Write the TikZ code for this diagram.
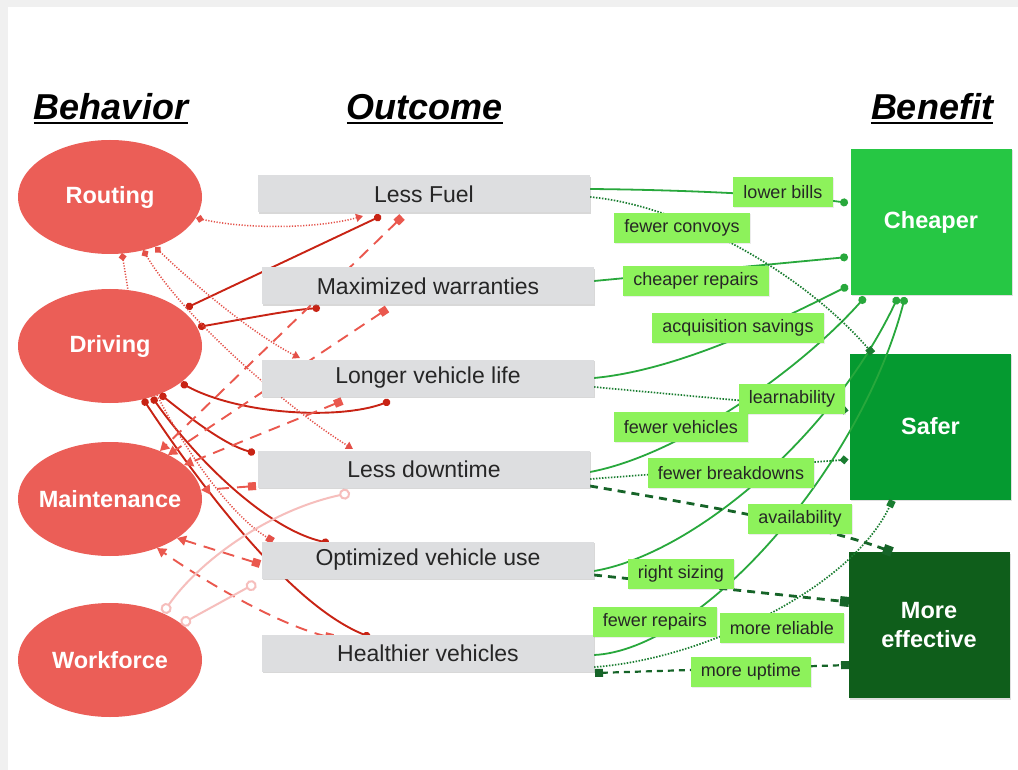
\documentclass[tikz,border=0pt]{standalone}
\usepackage{fontspec}
\setmainfont{Liberation Sans}
\usetikzlibrary{arrows.meta,shapes.geometric,shadows}
\definecolor{behred}{RGB}{235,94,87}
\definecolor{outgray}{RGB}{221,222,224}
\definecolor{cheapg}{RGB}{38,199,68}
\definecolor{saferg}{RGB}{5,154,48}
\definecolor{effg}{RGB}{15,94,27}
\definecolor{labg}{RGB}{141,242,91}
\definecolor{rsol}{RGB}{200,35,20}
\definecolor{rdsh}{RGB}{234,88,78}
\definecolor{rdt}{RGB}{228,80,72}
\definecolor{rpink}{RGB}{246,190,188}
\definecolor{gsol}{RGB}{40,168,60}
\definecolor{gdot}{RGB}{25,125,48}
\definecolor{gdsh}{RGB}{22,100,40}
\pgfdeclarelayer{under}
\pgfdeclarelayer{lines}
\pgfsetlayers{under,lines,main}
\begin{document}
\begin{tikzpicture}[x=1pt,y=-1pt,
 title/.style={font=\fontsize{36}{40}\selectfont\bfseries\itshape, anchor=base, inner sep=0pt},
 beh/.style={ellipse, fill=behred, minimum width=184pt, minimum height=114pt, inner sep=0pt,
   label={[text=white, font=\fontsize{23.5}{28}\selectfont\bfseries]center:#1}},
 ben/.style={rectangle, minimum width=161pt, minimum height=146pt, inner sep=0pt, text=white, align=center, font=\fontsize{23.5}{29}\selectfont\bfseries, drop shadow={shadow xshift=1pt, shadow yshift=-1.5pt, opacity=0.25}},
 outc/.style={rectangle, fill=outgray, minimum width=332pt, minimum height=37pt, inner sep=0pt, text=black!85, font=\fontsize{23}{28}\selectfont, drop shadow={shadow xshift=1pt, shadow yshift=-1.5pt, opacity=0.3}},
 lab/.style={rectangle, fill=labg, minimum height=30pt, inner xsep=10pt, inner ysep=0pt, text=black!85, font=\fontsize{18}{20}\selectfont, drop shadow={shadow xshift=1pt, shadow yshift=-1pt, opacity=0.15}},
 rs/.style={draw=rsol, line width=1.9pt, {Circle[length=7.5pt]}-{Circle[length=7.5pt]}},
 rd/.style={draw=rdsh, line width=1.9pt, dash pattern=on 12pt off 8pt, {Square[length=8pt,width=8pt]}-{Triangle[length=9pt,width=10pt]}},
 rdo/.style={draw=rdt, line width=1.5pt, dash pattern=on 1.2pt off 1.6pt},
 rp/.style={draw=rpink, line width=2pt, {Circle[open,length=11pt,fill=white]}-{Circle[open,length=11pt,fill=white]}},
 gs/.style={draw=gsol, line width=1.8pt, -{Circle[length=8pt]}},
 gdo/.style={draw=gdot, line width=1.7pt, dash pattern=on 1.5pt off 1.5pt},
 gds/.style={draw=gdsh, line width=2.8pt, dash pattern=on 8pt off 6pt, -{Square[length=9pt,width=10pt]}}
]
\useasboundingbox (0,0) rectangle (1018,770);
\begin{pgfonlayer}{under}
\fill[black!6] (0,0) rectangle (1018,770);
\fill[white] (8,7) rectangle (1018,770);
\node[beh=Routing] (R) at (110,197) {};
\node[beh=Driving] (D) at (110,346) {};
\node[beh=Maintenance] (M) at (110,499) {};
\node[beh=Workforce] (W) at (110,660) {};
\node[ben, fill=cheapg] (C) at (931,222) {Cheaper};
\node[ben, fill=saferg] (S) at (930.5,426.5) {Safer};
\node[ben, fill=effg] (E) at (929,625) {More\\effective};
\end{pgfonlayer}

% titles
\node[title] (tB) at (111,120) {Behavior};
\node[title] (tO) at (425,120) {Outcome};
\node[title] (tN) at (932,120) {Benefit};
\foreach \t in {tB,tO,tN}
  \draw[line width=2pt] ([yshift=-3.5pt]\t.base west) -- ([yshift=-3.5pt]\t.base east);

% outcomes
\node[outc] (LF) at (424,194) {Less Fuel};
\node[outc] (MW) at (428,286) {Maximized warranties};
\node[outc] (LV) at (428,378) {Longer vehicle life};
\node[outc] (LD) at (424,469) {Less downtime};
\node[outc] (OU) at (428,560) {Optimized vehicle use};
\node[outc] (HV) at (428,653) {Healthier vehicles};

% labels
\node[lab] (l1) at (783,192) {lower bills};
\node[lab] (l2) at (682,228) {fewer convoys};
\node[lab] (l3) at (696,281) {cheaper repairs};
\node[lab] (l4) at (738,328) {acquisition savings};
\node[lab] (l5) at (792,399) {learnability};
\node[lab] (l6) at (681,427) {fewer vehicles};
\node[lab] (l7) at (731,473) {fewer breakdowns};
\node[lab] (l8) at (800,519) {availability};
\node[lab] (l9) at (681,574) {right sizing};
\node[lab] (l10) at (655,622) {fewer repairs};
\node[lab] (l11) at (782,628) {more reliable};
\node[lab] (l12) at (751,672) {more uptime};

\begin{pgfonlayer}{lines}
% red solid
\draw[rs] ([shift={(76,-38)}]D.center) -- ([shift={(-43,22)}]LF.center);
\draw[rs] ([shift={(88,-19)}]D.center) .. controls (250,318) and (290,310) .. ([shift={(-108,22)}]MW.center);
\draw[rs] ([shift={(71,37)}]D.center) .. controls (240,415) and (340,420) .. ([shift={(-38,23)}]LV.center);
\draw[rs] ([shift={(50,48)}]D.center) .. controls (190,418) and (225,445) .. ([shift={(-169,-16)}]LD.center);
\draw[rs] ([shift={(42,51)}]D.center) .. controls (200,465) and (270,530) .. ([shift={(-99,-17)}]OU.center);
\draw[rs] ([shift={(33,53)}]D.center) .. controls (200,485) and (290,605) .. ([shift={(-58,-16)}]HV.center);
% red dashed
\draw[rd] ([shift={(-22,23)}]LF.center) -- ([shift={(50,-48)}]M.center);
\draw[rd] ([shift={(-41,23)}]MW.center) -- ([shift={(58,-44)}]M.center);
\draw[rd] ([shift={(-86,23)}]LV.center) -- ([shift={(74,-34)}]M.center);
\draw[rd] ([shift={(-168,17)}]LD.center) -- ([shift={(91,-9)}]M.center);
\draw[rd] ([shift={(-168,4)}]OU.center) -- ([shift={(67,39)}]M.center);
\draw[rd] ([shift={(-95,-15)}]HV.center) .. controls (280,625) and (210,585) .. ([shift={(47,49)}]M.center);
% red dotted
\draw[rdo, {Turned Square[length=8pt,width=8pt]}-{Triangle[length=7pt,width=8pt]}] ([shift={(86,21)}]R.center) .. controls (250,230) and (320,228) .. ([shift={(-61,22)}]LF.center);
\draw[rdo, {Turned Square[length=8pt,width=8pt]}-] ([shift={(12,56)}]R.center) -- ([shift={(18,-56)}]D.center);
\draw[rdo, {Turned Square[length=8pt,width=8pt]}-{Triangle[length=7pt,width=8pt]}] ([shift={(45,50)}]R.center) .. controls (200,290) and (255,335) .. ([shift={(-128,-20)}]LV.center);
\draw[rdo, {Turned Square[length=8pt,width=8pt]}-{Triangle[length=7pt,width=8pt]}] ([shift={(33,53)}]R.center) .. controls (185,320) and (290,410) .. ([shift={(-71,-20)}]LD.center);
\draw[rdo, -{Square[length=7pt,width=7pt]}] ([shift={(47,49)}]D.center) .. controls (185,450) and (230,515) .. ([shift={(-155,-19)}]OU.center);
% pink
\draw[rp] ([shift={(53,-47)}]W.center) .. controls (200,560) and (270,510) .. ([shift={(-74,24)}]LD.center);
\draw[rp] ([shift={(71,-36)}]W.center) -- ([shift={(-172,23)}]OU.center);
% green solid
\draw[gs] ([shift={(166,-5)}]LF.center) .. controls (700,190) and (800,196) .. ([shift={(-83,-19)}]C.center);
\draw[gs] ([shift={(166,-5)}]MW.center) -- ([shift={(-83,35)}]C.center);
\draw[gs] ([shift={(166,0)}]LV.center) .. controls (680,370) and (780,320) .. ([shift={(-83,64)}]C.center);
\draw[gs] ([shift={(166,3)}]LD.center) .. controls (680,455) and (800,370) .. ([shift={(-66,75)}]C.center);
\draw[gs] ([shift={(166,11)}]OU.center) .. controls (690,555) and (830,440) .. ([shift={(-33,75)}]C.center);
\draw[gs] ([shift={(166,2)}]HV.center) .. controls (700,650) and (860,470) .. ([shift={(-26,75)}]C.center);
% green dotted
\draw[gdo, -{Square[length=7pt,width=7pt]}] ([shift={(166,3)}]LF.center) .. controls (680,205) and (800,270) .. ([shift={(-58,-73)}]S.center);
\draw[gdo, -{Turned Square[length=9pt,width=9pt]}] ([shift={(166,9)}]LV.center) -- ([shift={(-82,-16)}]S.center);
\draw[gdo, -{Turned Square[length=9pt,width=9pt]}] ([shift={(166,10)}]LD.center) -- ([shift={(-82,33)}]S.center);
\draw[gdo, -{Square[length=7pt,width=7pt]}] ([shift={(166,14)}]HV.center) .. controls (700,660) and (850,590) .. ([shift={(-38,74)}]S.center);
% green dashed
\draw[gds] ([shift={(166,17)}]LD.center) .. controls (700,505) and (820,525) .. ([shift={(-37,-73)}]E.center);
\draw[gds] ([shift={(166,15)}]OU.center) -- ([shift={(-80,-23)}]E.center);
\draw[gds, line width=2.2pt, dash pattern=on 6pt off 5pt, {Square[length=8pt,width=8pt]}-{Square[length=8pt,width=8pt]}] ([shift={(167,20)}]HV.center) -- ([shift={(-80,40)}]E.center);
\end{pgfonlayer}
\end{tikzpicture}
\end{document}
